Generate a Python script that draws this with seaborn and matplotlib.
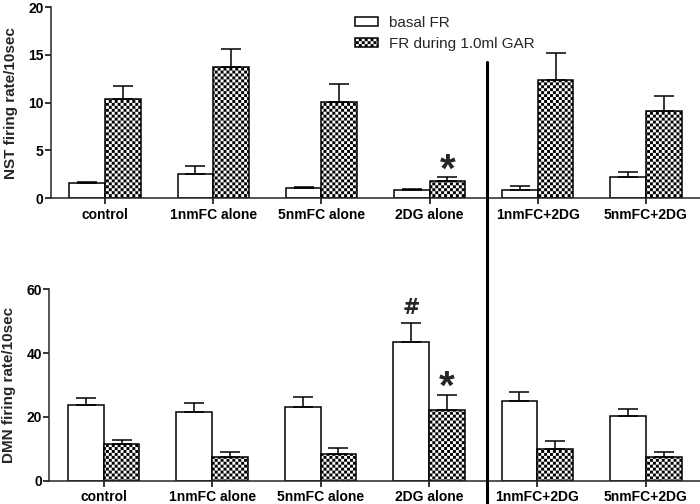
import warnings

import numpy as np
import pandas as pd
import matplotlib
matplotlib.use("Agg")
import matplotlib.pyplot as plt
import matplotlib.hatch as mhatch
import matplotlib.transforms as mtransforms
from matplotlib.lines import Line2D
import seaborn as sns

warnings.filterwarnings("ignore")

# ── Data (mean and upper SEM) ────────────────────────────────────────────────
GROUPS     = ["control", "1nmFC alone", "5nmFC alone", "2DG alone", "1nmFC+2DG", "5nmFC+2DG"]
CONDITIONS = ["basal FR", "FR during 1.0ml GAR"]

NST_BASAL     = [1.6, 2.5, 1.1, 0.9, 0.9, 2.2]
NST_BASAL_SEM = [0.15, 0.85, 0.1, 0.06, 0.35, 0.6]
NST_GAR       = [10.4, 13.7, 10.1, 1.8, 12.4, 9.1]
NST_GAR_SEM   = [1.3, 1.9, 1.8, 0.4, 2.8, 1.6]

DMN_BASAL     = [23.7, 21.6, 23.2, 43.6, 25.0, 20.4]
DMN_BASAL_SEM = [2.1, 2.9, 3.0, 5.7, 2.7, 2.1]
DMN_GAR       = [11.4, 7.4, 8.4, 22.2, 9.8, 7.5]
DMN_GAR_SEM   = [1.35, 1.6, 1.8, 4.8, 2.7, 1.6]

# significance marks: (group, condition index, symbol)
NST_MARKS = [("2DG alone", 1, "*")]
DMN_MARKS = [("2DG alone", 0, "#"), ("2DG alone", 1, "*")]


# ── Checkerboard hatch (registered as hatch letter "c") ──────────────────────
class CheckerHatch(mhatch.HatchPatternBase):
    def __init__(self, hatch, density):
        self.n = 34 if "c" in hatch else 0
        self.num_vertices = (self.n * self.n // 2) * 5

    def set_vertices_and_codes(self, vertices, codes):
        s = 1.0 / self.n
        k = 0
        for i in range(self.n):
            for j in range(self.n):
                if (i + j) % 2:
                    continue
                x, y = i * s, j * s
                vertices[k:k + 5] = [[x, y], [x + s, y], [x + s, y + s], [x, y + s], [x, y]]
                codes[k:k + 5] = [1, 2, 2, 2, 79]
                k += 5


mhatch._hatch_types.append(CheckerHatch)

sns.set_style("ticks")
plt.rcParams["font.family"] = ["Liberation Sans", "DejaVu Sans"]
plt.rcParams["hatch.linewidth"] = 0.01
plt.rcParams["axes.linewidth"] = 1.1


def draw_panel(ax, basal, basal_sem, gar, gar_sem, ymax, yticks, ylabel, marks):
    df = pd.DataFrame({
        "group": GROUPS * 2,
        "cond": [CONDITIONS[0]] * len(GROUPS) + [CONDITIONS[1]] * len(GROUPS),
        "value": list(basal) + list(gar),
    })
    sns.barplot(
        data=df, x="group", y="value", hue="cond",
        order=GROUPS, hue_order=CONDITIONS,
        palette=["white", "white"], saturation=1,
        edgecolor="black", linewidth=1.1,
        width=0.66, gap=0, errorbar=None, legend=False, ax=ax,
    )
    bars = list(ax.containers[:2])
    for patch in bars[1]:
        patch.set_hatch("c")

    tops = []
    for cont, sem in zip(bars, [basal_sem, gar_sem]):
        xs = [p.get_x() + p.get_width() / 2 for p in cont]
        ys = [p.get_height() for p in cont]
        ax.errorbar(xs, ys, yerr=[np.zeros(len(sem)), sem], fmt="none",
                    ecolor="black", elinewidth=1.1, capsize=7, capthick=1.1)
        tops.append([(x, y + e) for x, y, e in zip(xs, ys, sem)])

    for group, ci, sym in marks:
        x, top = tops[ci][GROUPS.index(group)]
        if sym == "*":
            ax.annotate(sym, xy=(x, top), xytext=(0, -3), textcoords="offset points",
                        ha="center", va="baseline", fontsize=29, fontweight="bold")
        else:
            ax.annotate(sym, xy=(x, top), xytext=(0, 6.5), textcoords="offset points",
                        ha="center", va="baseline", fontsize=15, fontweight="bold",
                        family="DejaVu Sans")

    ax.set_xlim(-0.5, len(GROUPS) - 0.5)
    ax.set_ylim(0, ymax)
    ax.set_yticks(yticks)
    ax.set_xlabel("")
    ax.set_ylabel(ylabel, fontsize=11, fontweight="bold")
    ax.yaxis.set_label_coords(-0.051, 0.5)
    ax.tick_params(axis="both", length=4, width=1.1, labelsize=10, colors="black")
    ax.tick_params(axis="y", pad=1.5)
    ax.tick_params(axis="x", pad=3)
    for lab in ax.get_xticklabels() + ax.get_yticklabels():
        lab.set_fontweight("bold")
    sns.despine(ax=ax)
    return bars


fig = plt.figure(figsize=(7, 5.04), dpi=100)
ax_top = fig.add_axes([0.0729, 0.6065, 0.9271, 0.3796])
ax_bot = fig.add_axes([0.0707, 0.0462, 0.9293, 0.3798])

bars = draw_panel(ax_top, NST_BASAL, NST_BASAL_SEM, NST_GAR, NST_GAR_SEM,
                  20, [0, 5, 10, 15, 20], "NST firing rate/10sec", NST_MARKS)
draw_panel(ax_bot, DMN_BASAL, DMN_BASAL_SEM, DMN_GAR, DMN_GAR_SEM,
           60, [0, 20, 40, 60], "DMN firing rate/10sec", DMN_MARKS)

ax_top.legend(bars, CONDITIONS, loc="upper left",
              bbox_to_anchor=(0.507, 0.968), bbox_transform=fig.transFigure,
              frameon=False, fontsize=11, borderpad=0, borderaxespad=0,
              handlelength=1.5, handleheight=0.5, handletextpad=0.7,
              labelspacing=0.45)

# thick divider between single treatments and the FC+2DG combinations
trans = mtransforms.blended_transform_factory(ax_top.transData, fig.transFigure)
fig.add_artist(Line2D([3.53, 3.53], [0, 0.877], transform=trans,
                      color="black", linewidth=2.2))

fig.savefig("out.png", dpi=100)
